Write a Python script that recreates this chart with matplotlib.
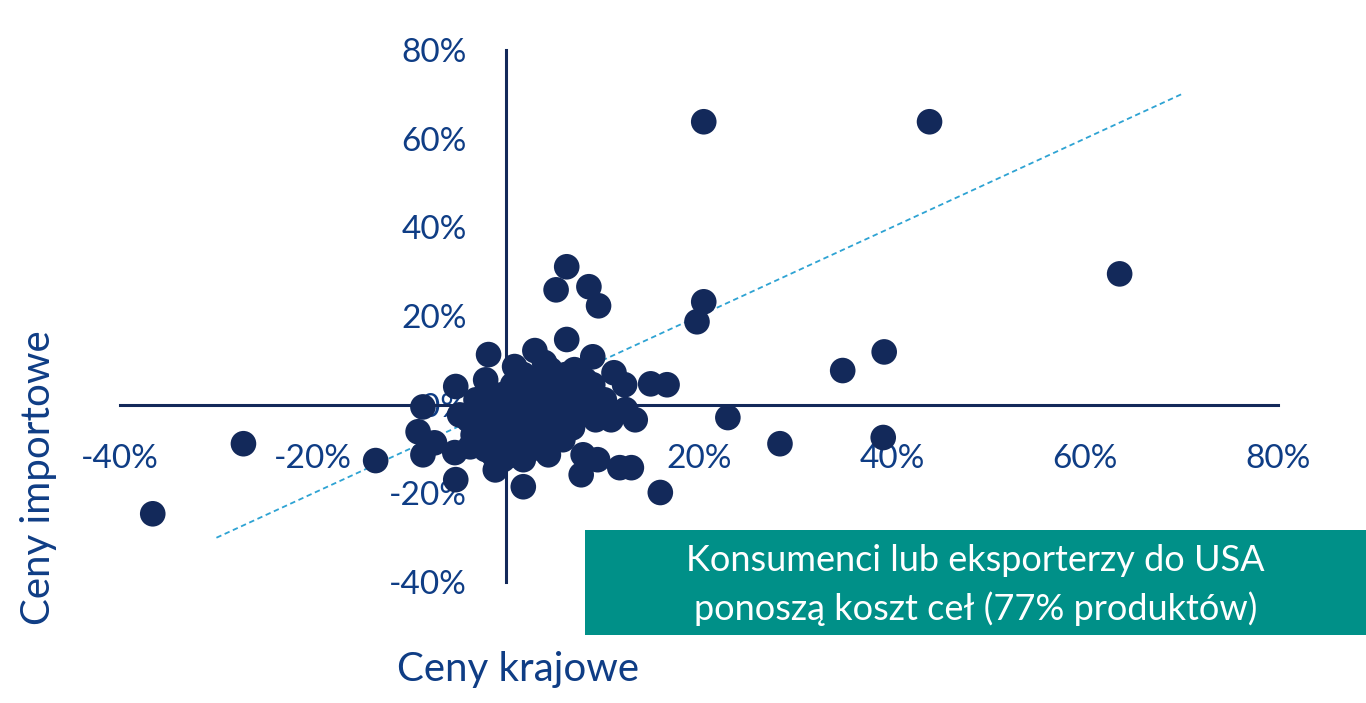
import matplotlib
matplotlib.use('Agg')
import matplotlib.pyplot as plt
from matplotlib.ticker import FuncFormatter

# wartosci w % (ceny krajowe, ceny importowe)
domestic = [
    -36.6, -27.2, -13.5, 20.5, 43.9, 63.6, 39.2, 34.9, 39.1, 28.4, 23.0, 20.5, 19.8,
    6.3, 5.2, 8.6, 9.6,
    0.9, 4.0, 7.1, 8.2, -8.6, -4.8, 10.9, 13.4, -9.1, -7.4, -8.6, -5.3, -3.7, -5.2,
    -1.1, 1.8, 8.0, 9.5, 7.8, 11.8, 13.0, 16.0, -1.8, 3.0, 6.3, 9.0, 11.2, 12.3,
    15.0, 16.7, -5.2, -2.1, 10.2, 12.4,
    -2.4, -1.9, -1.3, -0.8, -0.8, -0.3, -0.3, 0.2, 0.4, 0.7, 1.0, 1.2, 1.5, 1.8,
    2.0, 2.3, 2.5, 2.8, 3.1, 3.3, 3.5, 3.8, 4.1, 4.4, 4.6, 4.9, 5.2, 5.4, 5.6, 5.9,
    6.2, 6.4, 6.7, 6.9, 7.3, 7.5, 7.8, 8.1, 8.5, 9.0, 9.3, -2.9, -2.1, -1.3, -0.3,
    0.7, 1.8, 3.8, 4.4, -1.9, -3.9, -3.4, -3.1,
]
imports = [
    -24.6, -8.8, -12.6, 63.8, 63.8, 29.5, 11.9, 7.7, -7.4, -8.8, -2.9, 23.2, 18.7,
    31.1, 25.9, 26.6, 22.3,
    8.6, 9.5, 7.9, 5.6, -0.5, -2.3, -3.4, -3.4, -6.1, -8.6, -11.3, -10.8, -9.5, -16.9,
    -14.7, -18.5, -11.3, -12.4, -15.8, -14.2, -14.2, -19.8, 11.3, 12.2, 14.7, 10.8, 7.2, 4.5,
    4.7, 4.5, 4.1, 5.6, 1.1, -1.1,
    -1.1, -4.5, 1.1, -2.3, -6.8, 2.3, -4.5, -9.0, -1.1, 4.5, -5.6, 1.1, -2.9, 6.8,
    -7.9, -1.1, 3.4, -4.5, -9.0, 5.6, 0.0, -3.4, 2.3, -6.8, 7.9, -1.1, 4.5, -4.5, 1.1, -7.9,
    6.8, -1.6, 3.4, -5.2, 1.1, 5.6, -2.3, 2.3, 0.0, 4.5, -3.4, -7.9, -10.1, -11.3, -12.4,
    -11.3, -12.4, -10.1, -11.3, 3.4, -3.4, -6.8, 1.1,
]
trend_x = [-30, 70]
trend_y = [-30, 70]

x_ticks = [-40, -20, 0, 20, 40, 60, 80]
y_ticks = [-40, -20, 0, 20, 40, 60, 80]

navy = '#13295a'
txt = '#0f3d85'
font = 'Lato'

fig = plt.figure(figsize=(13.66, 7.03), dpi=100)
ax = fig.add_axes([0.0878, 0.172, 0.8477, 0.757])

ax.plot(trend_x, trend_y, linestyle=(0, (3, 2)), color='#2ea3d3', linewidth=1.3, zorder=1)
ax.scatter(domestic, imports, s=340, color=navy, edgecolors='none', zorder=2)

ax.set_xlim(-40, 80)
ax.set_ylim(-40, 80)
ax.set_xticks(x_ticks)
ax.set_yticks(y_ticks)
fmt = FuncFormatter(lambda v, p: f'{v:.0f}%')
ax.xaxis.set_major_formatter(fmt)
ax.yaxis.set_major_formatter(fmt)

for s in ['top', 'right']:
    ax.spines[s].set_visible(False)
ax.spines['left'].set_position(('data', 0))
ax.spines['bottom'].set_position(('data', 0))
for s in ['left', 'bottom']:
    ax.spines[s].set_color(navy)
    ax.spines[s].set_linewidth(2.2)

ax.tick_params(length=0, labelsize=24, labelcolor=txt)
ax.tick_params(axis='y', pad=28)
ax.tick_params(axis='x', pad=28)
for lbl in ax.get_xticklabels() + ax.get_yticklabels():
    lbl.set_fontfamily(font)

fig.text(0.028, 0.32, 'Ceny importowe', rotation=90, ha='center', va='center',
         fontsize=29, color=txt, family=font)
fig.text(0.379, 0.047, 'Ceny krajowe', ha='center', va='center',
         fontsize=29, color=txt, family=font)

box = plt.Rectangle((585 / 1366, 1 - 635 / 703), 781 / 1366, 105 / 703,
                    transform=fig.transFigure, facecolor='#009088', edgecolor='none')
fig.add_artist(box)
fig.text(0.714, 1 - 585 / 703, 'Konsumenci lub eksporterzy do USA\nponoszą koszt ceł (77% produktów)',
         ha='center', va='center', fontsize=26, color='white', family=font, linespacing=1.5)

fig.savefig('out.png', dpi=100)
